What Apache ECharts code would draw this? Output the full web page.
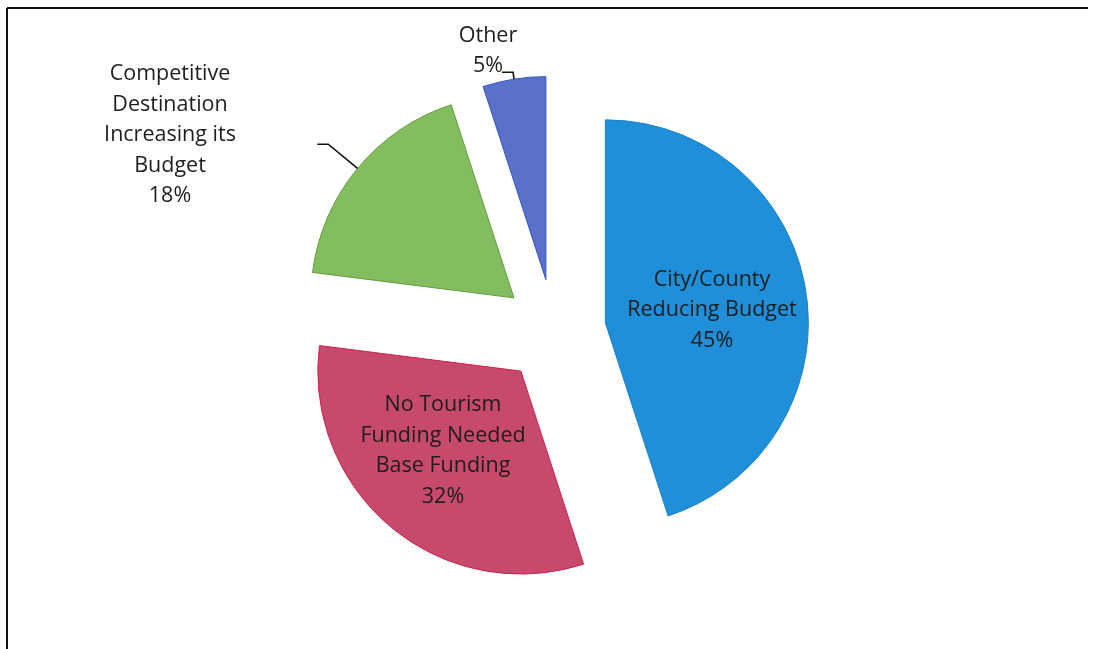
<!DOCTYPE html>
<html>
<head>
<meta charset="utf-8">
<script src="https://cdn.jsdelivr.net/npm/echarts@6/dist/echarts.min.js"></script>
<style>
  html, body { margin: 0; padding: 0; background: #ffffff; }
  #chart { width: 1096px; height: 649px; }
</style>
</head>
<body>
<div id="chart"></div>
<script>
// Reasons behind the tourism budget shortfall (share of responses, %)
const categories = [
  'City/County\nReducing Budget',
  'No Tourism\nFunding Needed\nBase Funding',
  'Competitive\nDestination\nIncreasing its\nBudget',
  'Other'
];
const shares = [45, 32, 18, 5];

// Styling per slice
const sliceColors = ['#1f8fd9', '#c7496b', '#84bd5f', '#5b70c9'];
const edgeColors  = ['#1b82c8', '#d21f4c', '#5f9e3c', '#2f55c2'];
const labelInside = [true, true, false, false];
const leaderLength = [0, 0, 38, 7];

// Where each label block is centred on the canvas
const labelSpots = [[712, 310], [443, 451], [170, 135], [488, 51]];

const PIE_CENTER = [554, 331];
const PIE_RADIUS = 203;
const EXPLODE = 52;
const FONT = '"Open Sans", Lato, sans-serif';

// Offset of each exploded slice along its bisector
const total = shares.reduce((a, b) => a + b, 0);
let running = 0;
const explodeShift = shares.map(v => {
  const mid = (running + v / 2) / total;
  running += v;
  const ang = Math.PI / 2 - mid * 2 * Math.PI;
  return [Math.cos(ang) * EXPLODE, -Math.sin(ang) * EXPLODE];
});

const chart = echarts.init(document.getElementById('chart'), null, { renderer: 'canvas' });

const sliceData = categories.map((name, i) => ({
  name: name,
  value: shares[i],
  selected: true,
  itemStyle: { color: sliceColors[i], borderColor: edgeColors[i], borderWidth: 1 }
}));

const labelData = categories.map((name, i) => ({
  name: name,
  value: shares[i],
  label: { position: labelInside[i] ? 'inside' : 'outside' },
  labelLine: {
    show: !labelInside[i],
    length: leaderLength[i],
    length2: 11,
    lineStyle: { color: '#111111', width: 1.6 }
  }
}));

chart.setOption({
  animation: false,
  backgroundColor: '#ffffff',
  graphic: [
    { type: 'line', shape: { x1: 7, y1: 8, x2: 1088, y2: 8 }, style: { stroke: '#111111', lineWidth: 2 } },
    { type: 'line', shape: { x1: 7, y1: 8, x2: 7, y2: 649 }, style: { stroke: '#111111', lineWidth: 2 } }
  ],
  series: [
    {
      // exploded slices
      type: 'pie',
      z: 2,
      center: PIE_CENTER,
      radius: PIE_RADIUS,
      startAngle: 90,
      clockwise: true,
      selectedMode: 'multiple',
      selectedOffset: EXPLODE,
      silent: true,
      label: { show: false },
      labelLine: { show: false },
      data: sliceData
    },
    {
      // category labels and leader lines
      type: 'pie',
      z: 6,
      center: PIE_CENTER,
      radius: PIE_RADIUS,
      startAngle: 90,
      clockwise: true,
      silent: true,
      avoidLabelOverlap: false,
      itemStyle: { color: 'rgba(0,0,0,0)', borderWidth: 0 },
      data: labelData,
      label: {
        formatter: '{b}\n{c}%',
        fontFamily: FONT,
        fontSize: 21.5,
        lineHeight: 30.5,
        color: '#1e1e1e',
        align: 'center'
      },
      labelLayout: function (params) {
        const i = params.dataIndex;
        const spot = labelSpots[i];
        const out = { x: spot[0], y: spot[1], align: 'center', verticalAlign: 'middle' };
        if (params.labelLinePoints) {
          const s = explodeShift[i];
          out.labelLinePoints = params.labelLinePoints.map(p => [p[0] + s[0], p[1] + s[1]]);
        }
        return out;
      }
    }
  ]
});
</script>
</body>
</html>
